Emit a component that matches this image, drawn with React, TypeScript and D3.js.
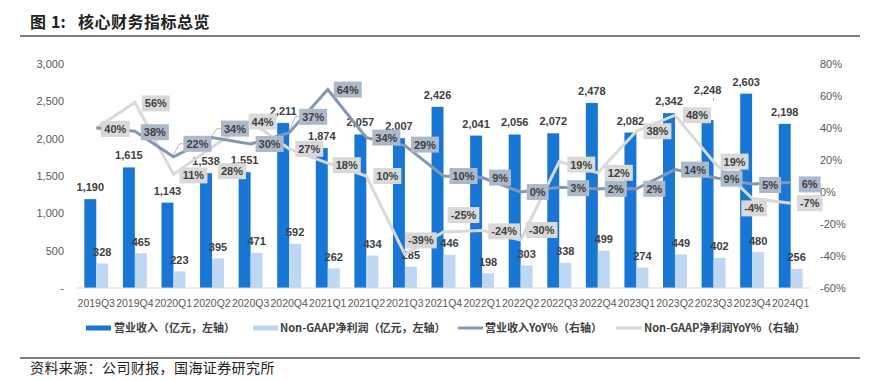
import React from "react";
import * as d3 from "d3";

const categories = [
  "2019Q3", "2019Q4", "2020Q1", "2020Q2", "2020Q3", "2020Q4", "2021Q1", "2021Q2", "2021Q3", "2021Q4",
  "2022Q1", "2022Q2", "2022Q3", "2022Q4", "2023Q1", "2023Q2", "2023Q3", "2023Q4", "2024Q1",
];
const revenue = [1190, 1615, 1143, 1538, 1551, 2211, 1874, 2057, 2007, 2426, 2041, 2056, 2072, 2478, 2082, 2342, 2248, 2603, 2198];
const nonGaap = [328, 465, 223, 395, 471, 592, 262, 434, 285, 446, 198, 303, 338, 499, 274, 449, 402, 480, 256];
const revenueYoY = [40, 38, 22, 34, 30, 37, 64, 34, 29, 10, 9, 0, 3, 2, 2, 14, 9, 5, 6];
const nonGaapYoY = [40, 56, 11, 28, 44, 27, 18, 10, -39, -25, -24, -30, 19, 12, 38, 48, 19, -4, -7];
const leftTicks = [0, 500, 1000, 1500, 2000, 2500, 3000];
const rightTicks = [-60, -40, -20, 0, 20, 40, 60, 80];

// layout: label offsets (px) from each line point
const revLabelOffset: [number, number][] = [
  [19, 1], [20, 1], [24, -13], [23, -9], [19, 0], [24, -16], [20, 0], [20, 0], [20, -1], [20, 0],
  [18, 0], [17, 0], [19, 1], [18, 0], [18, 0], [20, 0], [18, 1], [18, 1], [19, 2],
];
const ngLabelOffset: [number, number][] = [
  [19, 1], [21, 1], [20, 1], [20, 24], [12, 0], [20, 0], [19, 2], [21, 0], [16, -14], [20, -17],
  [22, 1], [21, -10], [22, 3], [21, 0], [21, 0], [22, 0], [21, 0], [2, 10], [19, 0],
];
// layout: extra lift (px) of bar value labels
const revBarLabelLift = [0, 0, 0, 0, 0, 0, 0, 0, 0, 0, 0, 0, 0, 0, 0, 0, 18, 0, 0];

const COL_REV = "#1877d5";
const COL_NG = "#bdd7f4";
const COL_REV_LINE = "#8497b0";
const COL_NG_LINE = "#d9d9d9";
const BOX_REV = "#acb9ca";
const BOX_NG = "#d9d9d9";
const TXT = "#404040";
const AXIS_TXT = "#595959";
const NUM_FONT = "'Liberation Sans', Arial, sans-serif";
const CJK_FONT = "'Noto Sans CJK SC', 'Liberation Sans', sans-serif";

function textW(s: string) {
  let w = 0;
  for (const ch of s) {
    if (ch === "%") w += 9.8;
    else if (ch === "-") w += 3.7;
    else w += 6.1;
  }
  return w;
}

export default function App() {
  const W = 869;
  const H = 381;
  const x = d3.scaleBand<string>().domain(categories).range([77, 810]).padding(0);
  const bw = x.bandwidth();
  const x1 = d3.scaleBand<string>().domain(["rev", "ng"]).range([bw * 0.19, bw * 0.81]).padding(0);
  const yL = d3.scaleLinear().domain([0, 3000]).range([288, 64]);
  const yR = d3.scaleLinear().domain([-60, 80]).range([288, 64]);
  const cx = (i: number) => (x(categories[i]) as number) + bw / 2;

  const line = d3
    .line<number>()
    .x((_, i) => cx(i))
    .y((d) => yR(d));

  const fmt = d3.format(",");

  const renderBox = (v: number, i: number, off: [number, number], fill: string, key: string) => {
    const s = `${v}%`;
    const w = textW(s) + 6;
    const h = 16;
    const bx = cx(i) + off[0];
    const by = yR(v) + off[1];
    return (
      <g key={key}>
        <rect x={bx - w / 2} y={by - h / 2} width={w} height={h} fill={fill} />
        <text
          x={bx}
          y={by}
          dy="0.36em"
          textAnchor="middle"
          fontFamily={NUM_FONT}
          fontWeight="bold"
          fontSize={11}
          fill={TXT}
        >
          {s}
        </text>
      </g>
    );
  };

  return (
    <svg
      width={W}
      height={H}
      style={{ position: "absolute", left: 0, top: 0, background: "#fff" }}
    >
      {/* Title */}
      <g fontFamily={CJK_FONT} fontWeight="bold" fontSize={16} fill="#222">
        <text x={30} y={28}>图</text>
        <text x={51} y={28}>1:</text>
        <text x={78} y={28} letterSpacing={0.5}>核心财务指标总览</text>
      </g>
      <line x1={20} x2={860} y1={36} y2={36} stroke="#555" strokeWidth={1.5} />

      {/* Left axis */}
      {leftTicks.map((t) => (
        <text
          key={`l${t}`}
          x={64}
          y={yL(t)}
          dy="0.35em"
          textAnchor="end"
          fontFamily={NUM_FONT}
          fontSize={11}
          fill={AXIS_TXT}
        >
          {t === 0 ? "-" : fmt(t)}
        </text>
      ))}
      {/* Right axis */}
      {rightTicks.map((t) => (
        <text
          key={`r${t}`}
          x={820}
          y={yR(t)}
          dy="0.35em"
          textAnchor="start"
          fontFamily={NUM_FONT}
          fontSize={11}
          fill={AXIS_TXT}
        >
          {`${t}%`}
        </text>
      ))}

      {/* Bars */}
      {categories.map((c, i) => {
        const x0 = x(c) as number;
        const rx = x0 + (x1("rev") as number);
        const nx = x0 + (x1("ng") as number);
        const w = x1.bandwidth();
        const lift = revBarLabelLift[i];
        return (
          <g key={c}>
            <rect x={rx} y={yL(revenue[i])} width={w} height={yL(0) - yL(revenue[i])} fill={COL_REV} />
            <rect x={nx} y={yL(nonGaap[i])} width={w} height={yL(0) - yL(nonGaap[i])} fill={COL_NG} />
            {lift > 0 && (
              <line
                x1={rx + w / 2 + 6}
                x2={rx + w / 2 + 6}
                y1={yL(revenue[i]) - 8 - lift + 3}
                y2={yL(revenue[i]) - 8 - lift + 7}
                stroke="#a6a6a6"
                strokeWidth={0.8}
              />
            )}
            <text
              x={rx + w / 2}
              y={yL(revenue[i]) - 8 - lift}
              textAnchor="middle"
              fontFamily={NUM_FONT}
              fontWeight="bold"
              fontSize={11}
              fill={TXT}
            >
              {fmt(revenue[i])}
            </text>
            <text
              x={nx + w / 2}
              y={yL(nonGaap[i]) - 7.5}
              textAnchor="middle"
              fontFamily={NUM_FONT}
              fontWeight="bold"
              fontSize={11}
              fill={TXT}
            >
              {fmt(nonGaap[i])}
            </text>
          </g>
        );
      })}

      {/* Axis baseline */}
      <line x1={77} x2={810} y1={yL(0)} y2={yL(0)} stroke="#d9d9d9" strokeWidth={1} />

      {/* X labels */}
      {categories.map((c, i) => (
        <text
          key={`x${c}`}
          x={cx(i)}
          y={303}
          dy="0.35em"
          textAnchor="middle"
          fontFamily={NUM_FONT}
          fontSize={10.5}
          fill={AXIS_TXT}
        >
          {c}
        </text>
      ))}

      {/* Lines */}
      <path d={line(nonGaapYoY) || ""} fill="none" stroke={COL_NG_LINE} strokeWidth={3} />
      <path d={line(revenueYoY) || ""} fill="none" stroke={COL_REV_LINE} strokeWidth={3} />

      {/* Leader lines */}
      {[2, 3, 5].map((i) => {
        const px = cx(i);
        const py = yR(revenueYoY[i]);
        const bx = px + revLabelOffset[i][0] - (textW(`${revenueYoY[i]}%`) + 6) / 2;
        const by = py + revLabelOffset[i][1];
        return (
          <polyline
            key={`ld${i}`}
            points={`${px},${py - 2} ${bx - 4},${by} ${bx},${by}`}
            fill="none"
            stroke="#a6a6a6"
            strokeWidth={0.8}
          />
        );
      })}

      {/* Labels */}
      {revenueYoY.map((v, i) => renderBox(v, i, revLabelOffset[i], BOX_REV, `rb${i}`))}
      {nonGaapYoY.map((v, i) => renderBox(v, i, ngLabelOffset[i], BOX_NG, `nb${i}`))}

      {/* Legend */}
      <g fontFamily={CJK_FONT} fontWeight="bold" fontSize={11} fill={TXT}>
        <rect x={86} y={325.5} width={25} height={5} fill={COL_REV} />
        <text x={114} y={328} dy="0.35em">营业收入（亿元，左轴）</text>
        <rect x={253} y={325.5} width={25} height={5} fill={COL_NG} />
        <text x={280} y={328} dy="0.35em">Non-GAAP净利润（亿元，左轴）</text>
        <line x1={458} x2={483} y1={328} y2={328} stroke={COL_REV_LINE} strokeWidth={3} />
        <text x={485} y={328} dy="0.35em">营业收入YoY%（右轴）</text>
        <line x1={616} x2={642} y1={328} y2={328} stroke={COL_NG_LINE} strokeWidth={3} />
        <text x={644} y={328} dy="0.35em">Non-GAAP净利润YoY%（右轴）</text>
      </g>

      {/* Footer */}
      <line x1={20} x2={860} y1={358} y2={358} stroke="#7f7f7f" strokeWidth={2} />
      <text
        x={30}
        y={368}
        dy="0.36em"
        fontFamily={CJK_FONT}
        fontSize={14}
        letterSpacing={0.4}
        fill="#222"
      >
        资料来源：公司财报，国海证券研究所
      </text>
    </svg>
  );
}
